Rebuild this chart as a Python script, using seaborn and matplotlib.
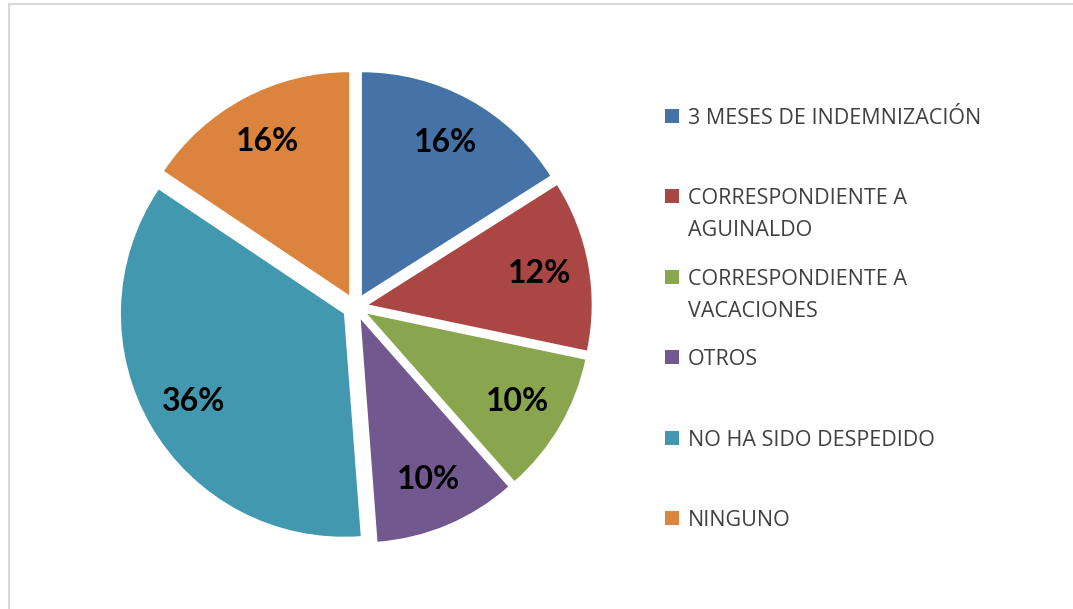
import matplotlib
matplotlib.use("Agg")
import matplotlib.pyplot as plt
from matplotlib.patches import Rectangle
from matplotlib.lines import Line2D
import seaborn as sns

categorias = [
    "3 MESES DE INDEMNIZACIÓN",
    "CORRESPONDIENTE A\nAGUINALDO",
    "CORRESPONDIENTE A\nVACACIONES",
    "OTROS",
    "NO HA SIDO DESPEDIDO",
    "NINGUNO",
]
porcentajes = [16.0, 12.3, 10.2, 10.3, 35.6, 15.6]
colores = ["#4572A7", "#AA4643", "#89A54E", "#71588F", "#4198AF", "#DB843D"]

sns.set_style("white")
plt.rcParams["font.family"] = ["Open Sans", "DejaVu Sans"]

W, H = 1073, 609
fig = plt.figure(figsize=(W / 100, H / 100), dpi=100)

# ejes cuadrados para el pastel (radio 1 = 223 px)
r_px = 223
lim = 1.2
lado = 2 * lim * r_px
cx, cy = 355.5, 307
ax = fig.add_axes([(cx - lado / 2) / W, (H - cy - lado / 2) / H, lado / W, lado / H])

wedges, textos, autotextos = ax.pie(
    porcentajes,
    colors=colores,
    startangle=90,
    counterclock=False,
    explode=[0.06] * len(porcentajes),
    autopct="%1.0f%%",
    pctdistance=0.78,
    wedgeprops=dict(linewidth=0),
    textprops=dict(fontsize=23, fontweight="bold", color="black", family=["Lato", "DejaVu Sans"]),
)
ax.set_xlim(-lim, lim)
ax.set_ylim(-lim, lim)
ax.set_aspect("equal")
ax.axis("off")

# leyenda a la derecha
y0, paso, interlinea = 116, 80.4, 32
for i, (cat, col) in enumerate(zip(categorias, colores)):
    y = y0 + i * paso
    fig.patches.append(Rectangle((665 / W, (H - y - 7) / H), 14 / W, 14 / H,
                                 transform=fig.transFigure, facecolor=col, edgecolor="none"))
    for j, linea in enumerate(cat.split("\n")):
        fig.text(688 / W, (H - y - j * interlinea) / H, linea, fontsize=15.5,
                 color="#404040", va="center_baseline", ha="left")

# borde del area del grafico
fig.lines.append(Line2D([8.5 / W, 1], [1 - 4 / H, 1 - 4 / H], transform=fig.transFigure,
                        color="#d9d9d9", linewidth=1.5))
fig.lines.append(Line2D([8.5 / W, 8.5 / W], [0, 1 - 4 / H], transform=fig.transFigure,
                        color="#d9d9d9", linewidth=1.5))

fig.savefig("out.png", dpi=100, facecolor="white")
